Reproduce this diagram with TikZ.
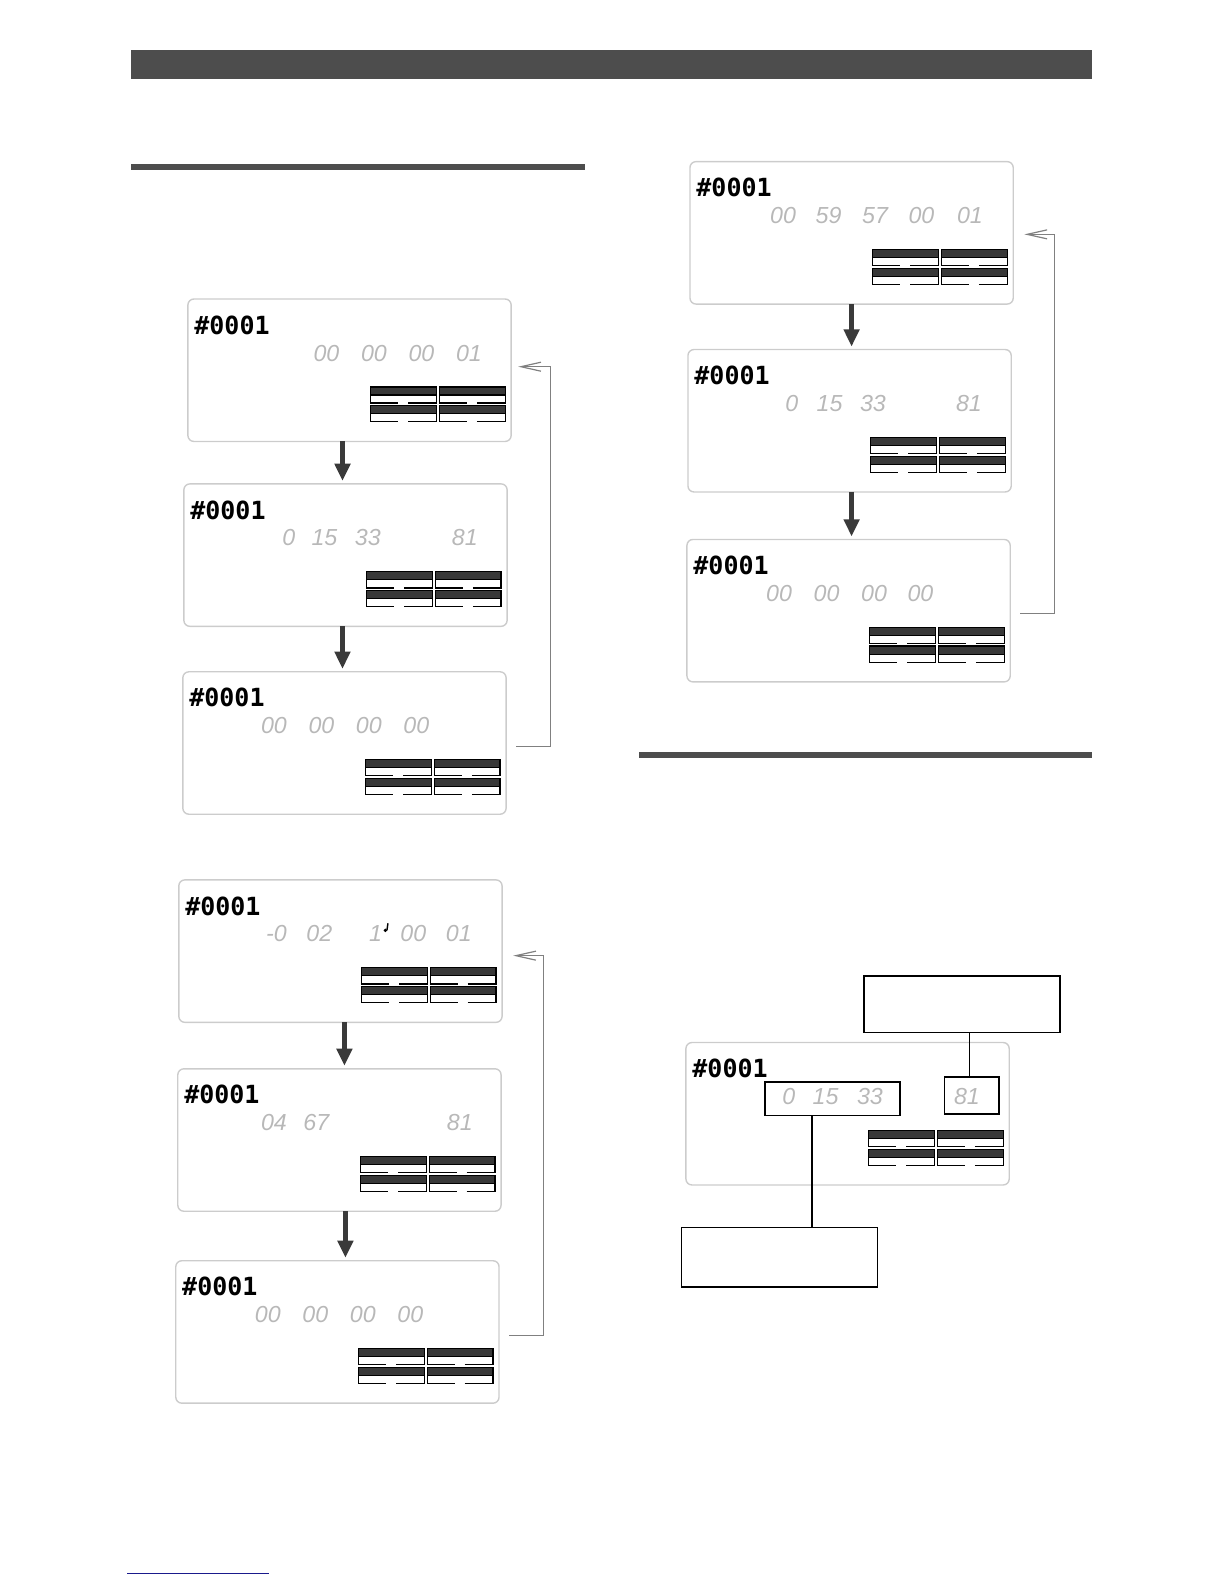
\documentclass[tikz,border=0pt]{standalone}
\usepackage{fontspec}
\usetikzlibrary{arrows.meta,calc}
\newfontfamily\idfont{DejaVu Sans Mono}
\newfontfamily\segfont{Liberation Sans}
\definecolor{barcol}{HTML}{4D4D4D}
\definecolor{arrowcol}{HTML}{3A3A3A}
\definecolor{linkblue}{HTML}{1A1A8C}
\tikzset{
  panel/.style={draw=black!20, line width=0.7pt, rounded corners=3pt, minimum width=161.6pt, minimum height=71.2pt, anchor=north west, inner sep=0pt, outer sep=0pt},
  idtext/.style={anchor=north west, inner sep=0pt, font={\idfont\bfseries\fontsize{12.5}{13}\selectfont}},
  seg/.style={anchor=north west, inner sep=0pt, text=black!28, font={\segfont\itshape\fontsize{11.6}{12}\selectfont}},
  meterdark/.style={fill=black!78},
  meterline/.style={draw=black, line width=0.6pt},
  bigarrow/.style={draw=arrowcol, line width=2.5pt, -{Triangle[length=8.6pt,width=7.6pt]}},
  retline/.style={draw=black!50, line width=0.6pt, -{Straight Barb[length=10pt,width=4.5pt]}},
  callbox/.style={draw=black, line width=0.8pt, inner sep=0pt, outer sep=0pt},
  callline/.style={draw=black, line width=0.8pt}
}
\newcommand\lcd[4]{%
  \node[panel] (#1) at (#2,#3) {};
  \begin{scope}[shift={(#2,#3)}]
    \node[idtext] (#1id) at (6,16) {\#0001};
    \foreach \mx in {181,249}{\foreach \my in {87,105.5}{
      \fill[meterdark] (\mx,\my) rectangle ++(65,8);
      \draw[meterline] (\mx,\my) rectangle ++(65,8);
      \draw[meterline] (\mx,\my+8) -- ++(0,8) -- ++(27,0) (\mx+37,\my+16) -- ++(28,0) -- ++(0,-8);
    }}
    \foreach \dx/\dt [count=\i] in {#4}{\node[seg] (#1d\i) at (\dx,45) {\dt};}
  \end{scope}}
\begin{document}
\begin{tikzpicture}[x=0.505pt,y=-0.505pt]
\useasboundingbox (0,0) rectangle (1212,1568);
% bars
\fill[barcol] (130,49) rectangle (1081,78);
\fill[barcol] (130,162) rectangle (579,168);
\fill[barcol] (633,744) rectangle (1081,750);
\draw[linkblue, line width=0.9pt] (126,1557.5) -- (266,1557.5);
% panels
\lcd{p1}{186}{296}{124/00,171/00,218/00,265/01}
\lcd{p2}{182}{479}{97/0,126/15,169/33,265/81}
\lcd{p3}{181}{665}{77/00,124/00,171/00,218/00}
\lcd{p4}{177}{871}{86/-0,126/02,188/1,219/00,264/01}
\lcd{p5}{176}{1058}{82/04,124/67,266/81}
\lcd{p6}{174}{1248}{78/00,125/00,172/00,219/00}
\lcd{r1}{683}{160}{79/00,124/59,170/57,216/00,264/01}
\lcd{r2}{681}{346}{96/0,127/15,170/33,265/81}
\lcd{r3}{680}{534}{78/00,125/00,172/00,218/00}
\lcd{r4}{679}{1032}{95/0,125/15,169/33,265/81}
% small note mark in p4
\begin{scope}[shift={(177,871)}]
  \fill (204.5,50) circle (1.8);
  \draw[line width=0.7pt] (206,50) -- (207,43);
\end{scope}
% down arrows
\coordinate (a1) at ([xshift=-3.5pt]p1.south);
\coordinate (a2) at ([xshift=-1.5pt]p2.south);
\coordinate (a3) at ([xshift=2pt]p4.south);
\coordinate (a4) at ([xshift=3pt]p5.south);
\coordinate (a5) at (r1.south);
\coordinate (a6) at ([xshift=1pt]r2.south);
\path (a1 |- p2.north) coordinate (t1);
\path (a2 |- p3.north) coordinate (t2);
\path (a3 |- p5.north) coordinate (t3);
\path (a4 |- p6.north) coordinate (t4);
\path (a5 |- r2.north) coordinate (t5);
\path (a6 |- r3.north) coordinate (t6);
\draw[bigarrow] (a1) -- ([yshift=1.5pt]t1);
\draw[bigarrow] (a2) -- ([yshift=1.5pt]t2);
\draw[bigarrow] (a3) -- ([yshift=1.5pt]t3);
\draw[bigarrow] (a4) -- ([yshift=1.5pt]t4);
\draw[bigarrow] (a5) -- ([yshift=1.5pt]t5);
\draw[bigarrow] (a6) -- ([yshift=1.5pt]t6);
% return lines
\draw[retline] ($(p3.east)+(10,3.5)$) -- ++(34,0) |- ($(p1.east)+(7,-3.5)$);
\draw[retline] ($(p6.east)+(10,3.5)$) -- ++(34,0) |- ($(p4.east)+(11,4.5)$);
\draw[retline] ($(r3.east)+(10,2.5)$) -- ++(34,0) |- ($(r1.east)+(11,1.5)$);
% callouts
\node[callbox, minimum width=98pt, minimum height=28.3pt] (tc) at (952,994) {};
\node[callbox, minimum width=27.3pt, minimum height=18.7pt] (b81) at (962,1084.5) {};
\node[callbox, minimum width=67.7pt, minimum height=16.7pt] (b3) at (824,1087.5) {};
\node[callbox, minimum width=98pt, minimum height=29.8pt] (bc) at (771.5,1244.5) {};
\coordinate (l1) at ([xshift=-1.2pt]b81.north);
\draw[callline] (l1) -- (l1 |- tc.south);
\coordinate (l2) at ([xshift=-10.1pt]b3.south);
\draw[callline] (l2) -- (l2 |- bc.north);
\end{tikzpicture}
\end{document}
